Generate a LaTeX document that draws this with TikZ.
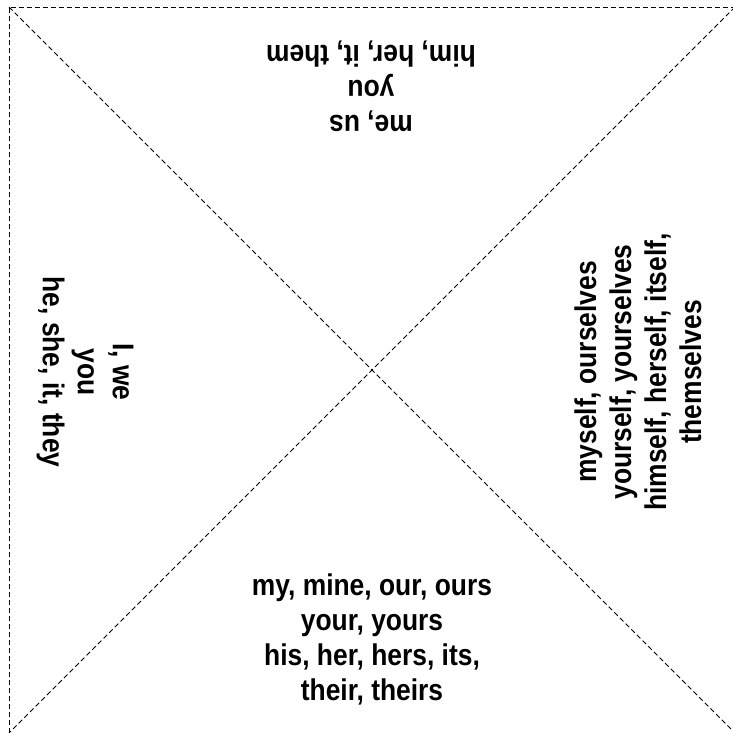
\documentclass[tikz,border=0pt]{standalone}
\usepackage{fontspec}
\newfontfamily\narrowbold{Liberation Sans}[FakeStretch=0.88]

\tikzset{
  fold/.style={dash pattern=on 5pt off 3pt, line width=0.8pt},
  words/.style={font=\fontsize{30}{35}\selectfont\narrowbold\bfseries, align=center, inner sep=0pt}
}

\begin{document}
\begin{tikzpicture}[x=1pt,y=-1pt]
\useasboundingbox (0,0) rectangle (733,732);
% folding square, its right and bottom edges fall off the page
\coordinate (tl) at (9,7);
\coordinate (tr) at (735,7);
\coordinate (bl) at (9,733);
\coordinate (br) at (735,733);
\draw[fold] (bl) -- (tl) -- (tr);
\draw[fold] (tl) -- (br);
\draw[fold] (tr) -- (bl);
% pronouns in the four flaps
\node[words, rotate=180] (objects) at (371,86) {me, us\\you\\him, her, it, them};
\node[words, rotate=-90] (subjects) at (85,372) {I, we\\you\\he, she, it, they};
\node[words, rotate=90] (reflexive) at (638,372) {myself, ourselves\\yourself, yourselves\\himself, herself, itself,\\themselves};
\node[words] (possessive) at (372,639) {my, mine, our, ours\\your, yours\\his, her, hers, its,\\their, theirs};
\end{tikzpicture}
\end{document}
